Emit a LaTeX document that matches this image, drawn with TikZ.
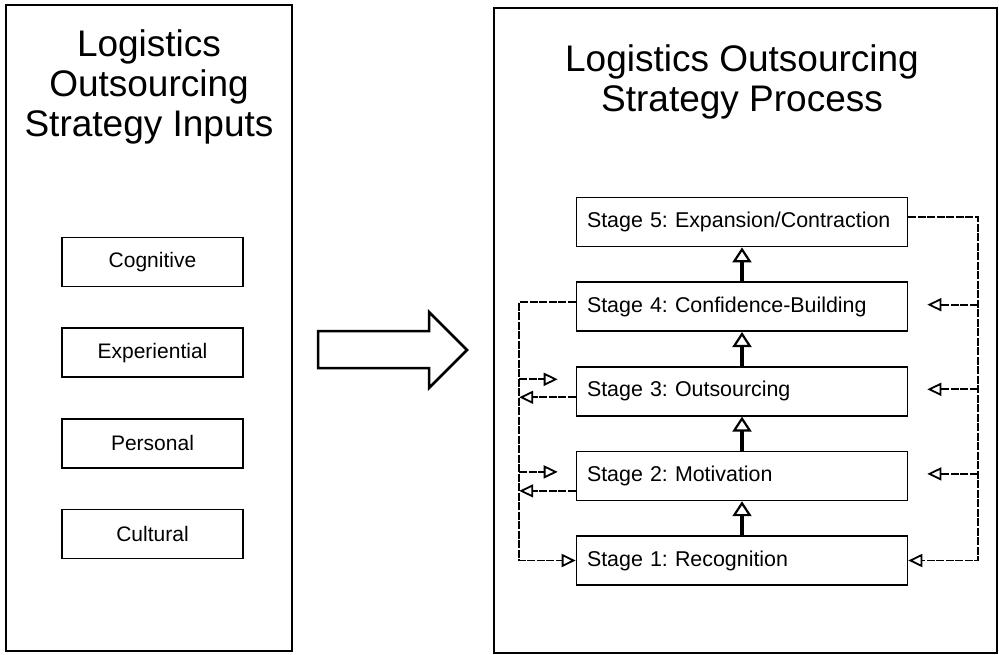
\documentclass[tikz,border=0pt]{standalone}
\usepackage{fontspec}
\setmainfont{Liberation Sans}
\usetikzlibrary{arrows.meta, positioning}

\begin{document}
\frenchspacing
\begin{tikzpicture}[
  x=1pt, y=-1pt,
  node distance=34pt and 0.8cm,
  panel/.style={draw, line width=1.6pt},
  heading/.style={align=center, font=\fontsize{37}{40}\selectfont},
  inbox/.style={draw, line width=1.6pt, minimum width=181pt, minimum height=49pt, font=\fontsize{21}{25}\selectfont},
  stagebox/.style={draw, line width=1.6pt, text width=310pt, inner xsep=10.5pt, minimum height=49pt, align=left, font=\fontsize{21.4}{25}\selectfont},
  link/.style={line width=1.7pt, dash pattern=on 8pt off 1.5pt},
  feed/.style={link, -{Triangle[open, length=14pt, width=13pt, line width=1.8pt]}},
  up/.style={line width=4pt, -{Triangle[open, length=15pt, width=19pt, line width=2.2pt]}}
]
\useasboundingbox (0,0) rectangle (999,655);

% Panels
\draw[panel] (6,5) rectangle (292,651);
\draw[panel, line width=1.2pt] (494,8) rectangle (997,653);

% Nodes
\node[heading] (t1) at (149,87) {Logistics\\Outsourcing\\Strategy Inputs};
\node[heading] (t2) at (742,82) {Logistics Outsourcing\\Strategy Process};

\node[inbox] (cog) at (152.5,262) {Cognitive};
\node[inbox, below=40pt of cog] (exp) {Experiential};
\node[inbox, below=40pt of exp] (per) {Personal};
\node[inbox, below=40pt of per] (cul) {Cultural};

\node[stagebox] (s1) at (742,560.5) {Stage 1: Recognition};
\node[stagebox, above=of s1] (s2) {Stage 2: Motivation};
\node[stagebox, above=of s2] (s3) {Stage 3: Outsourcing};
\node[stagebox, above=of s3] (s4) {Stage 4: Confidence-Building};
\node[stagebox, above=of s4] (s5) {Stage 5: Expansion/Contraction};

% Big arrow
\draw[line width=2.5pt, line join=miter] (318,331) -- (429,331) -- (429,312) -- (467,350)
  -- (429,388) -- (429,368) -- (318,368) -- cycle;

% Pointers
\draw[up] (s1.north) -- (s2.south);
\draw[up] (s2.north) -- (s3.south);
\draw[up] (s3.north) -- (s4.south);
\draw[up] (s4.north) -- (s5.south);

\coordinate (lb) at ([xshift=-56.5pt]s1.west);
\draw[feed] ([yshift=4.5pt]s4.west) -| (lb) -- (s1.west);
\draw[feed] ([xshift=-56.5pt,yshift=12pt]s3.west) -- ([xshift=-18pt,yshift=12pt]s3.west);
\draw[feed] ([yshift=-6pt]s3.west) -- ([xshift=-56.5pt,yshift=-6pt]s3.west);
\draw[feed] ([xshift=-56.5pt,yshift=4pt]s2.west) -- ([xshift=-18pt,yshift=4pt]s2.west);
\draw[feed] ([yshift=-15pt]s2.west) -- ([xshift=-56.5pt,yshift=-15pt]s2.west);

\coordinate (rb) at ([xshift=69.5pt]s1.east);
\draw[feed] ([yshift=5pt]s5.east) -| (rb) -- (s1.east);
\draw[feed] ([xshift=69.5pt,yshift=2pt]s4.east) -- ([xshift=19pt,yshift=2pt]s4.east);
\draw[feed] ([xshift=69.5pt,yshift=2pt]s3.east) -- ([xshift=19pt,yshift=2pt]s3.east);
\draw[feed] ([xshift=69.5pt,yshift=2pt]s2.east) -- ([xshift=19pt,yshift=2pt]s2.east);
\end{tikzpicture}
\end{document}
